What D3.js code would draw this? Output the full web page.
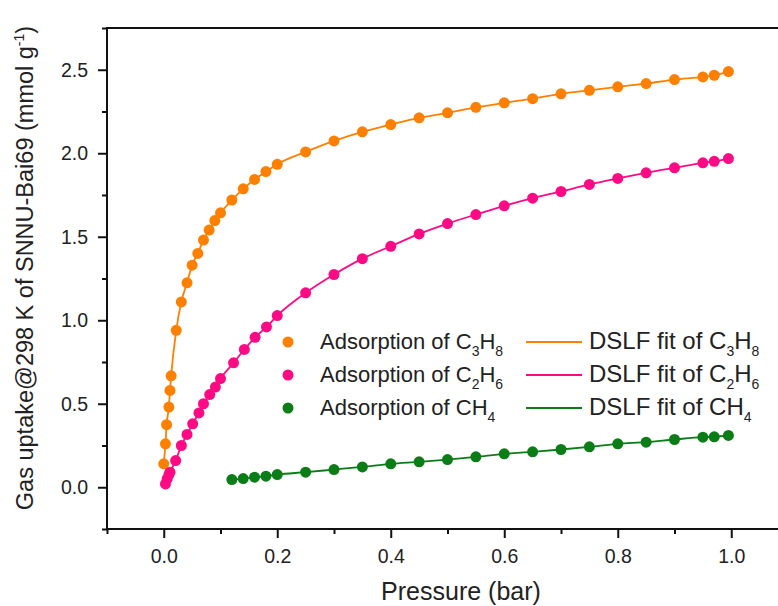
<!DOCTYPE html>
<html lang="en">
  <head>
    <meta charset="utf-8" />
    <title>Gas uptake</title>
    <script src="https://d3js.org/d3.v7.min.js"></script>
    <style>
      body { margin: 0; background: #fff; }
      svg text { font-family: Arial, "Liberation Sans", sans-serif; fill: #222; }
    </style>
  </head>
  <body>
    <div id="chart"></div>
    <script>
      // pressure (bar) and uptake (mmol/g)
      const pC3H8 = [0.0, 0.003, 0.005, 0.009, 0.011, 0.013, 0.022, 0.031, 0.041, 0.05, 0.06, 0.07, 0.08, 0.09, 0.1, 0.12, 0.14, 0.16, 0.18, 0.2, 0.25, 0.3, 0.35, 0.4, 0.45, 0.5, 0.55, 0.6, 0.65, 0.7, 0.75, 0.8, 0.85, 0.9, 0.95, 0.97, 0.995];
      const qC3H8 = [0.14, 0.26, 0.375, 0.48, 0.58, 0.667, 0.94, 1.11, 1.224, 1.33, 1.40, 1.48, 1.54, 1.597, 1.643, 1.72, 1.787, 1.843, 1.89, 1.934, 2.008, 2.074, 2.128, 2.172, 2.212, 2.242, 2.275, 2.302, 2.327, 2.356, 2.377, 2.398, 2.417, 2.441, 2.457, 2.467, 2.489];

      const pC2H6 = [0.003, 0.006, 0.009, 0.011, 0.021, 0.031, 0.041, 0.051, 0.062, 0.07, 0.081, 0.091, 0.1, 0.123, 0.142, 0.161, 0.181, 0.2, 0.25, 0.3, 0.35, 0.4, 0.45, 0.5, 0.55, 0.6, 0.65, 0.7, 0.75, 0.8, 0.85, 0.9, 0.95, 0.97, 0.995];
      const qC2H6 = [0.02, 0.05, 0.075, 0.09, 0.16, 0.25, 0.316, 0.38, 0.445, 0.5, 0.555, 0.6, 0.651, 0.745, 0.825, 0.898, 0.96, 1.028, 1.164, 1.274, 1.369, 1.443, 1.517, 1.579, 1.633, 1.685, 1.731, 1.771, 1.813, 1.849, 1.883, 1.913, 1.943, 1.952, 1.968];

      const pCH4 = [0.12, 0.14, 0.16, 0.18, 0.2, 0.25, 0.3, 0.35, 0.4, 0.45, 0.5, 0.55, 0.6, 0.65, 0.7, 0.75, 0.8, 0.85, 0.9, 0.95, 0.97, 0.995];
      const qCH4 = [0.046, 0.052, 0.06, 0.066, 0.076, 0.09, 0.106, 0.122, 0.14, 0.152, 0.166, 0.182, 0.2, 0.212, 0.226, 0.242, 0.26, 0.27, 0.286, 0.3, 0.302, 0.31];

      const gases = [
        { formula: ["C", "3", "H", "8"], p: pC3H8, q: qC3H8, color: "#ff8000" },
        { formula: ["C", "2", "H", "6"], p: pC2H6, q: qC2H6, color: "#ff0a84" },
        { formula: ["CH", "4"], p: pCH4, q: qCH4, color: "#0b7d16" }
      ];

      const xTicks = [0.0, 0.2, 0.4, 0.6, 0.8, 1.0];
      const yTicks = [0.0, 0.5, 1.0, 1.5, 2.0, 2.5];

      const W = 778, H = 606;
      const m = { left: 107, top: 28, right: 788, bottom: 529 };

      const svg = d3.select("#chart").append("svg").attr("width", W).attr("height", H);

      const x = d3.scaleLinear().domain([-0.1, 1.1]).range([m.left, m.right]);
      const y = d3.scaleLinear().domain([-0.25, 2.75]).range([m.bottom, m.top]);

      // axes: minor ticks then major ticks with labels
      const minorX = d3.range(-0.1, 1.11, 0.1).filter((v) => Math.abs(Math.round(v * 10) % 2) === 1);
      const minorY = d3.range(-0.25, 2.76, 0.5);

      svg.append("g")
        .attr("transform", `translate(0,${m.bottom})`)
        .call(d3.axisBottom(x).tickValues(minorX).tickSize(5).tickFormat(""))
        .call((g) => g.select(".domain").remove());
      svg.append("g")
        .attr("transform", `translate(0,${m.bottom})`)
        .call(d3.axisBottom(x).tickValues(xTicks).tickSize(9).tickPadding(11).tickFormat(d3.format(".1f")))
        .call((g) => g.select(".domain").remove());
      svg.append("g")
        .attr("transform", `translate(${m.left},0)`)
        .call(d3.axisLeft(y).tickValues(minorY).tickSize(5).tickFormat(""))
        .call((g) => g.select(".domain").remove());
      svg.append("g")
        .attr("transform", `translate(${m.left},0)`)
        .call(d3.axisLeft(y).tickValues(yTicks).tickSize(9).tickPadding(10).tickFormat(d3.format(".1f")))
        .call((g) => g.select(".domain").remove());

      svg.selectAll(".tick line").attr("stroke", "#111").attr("stroke-width", 2);
      svg.selectAll(".tick text").style("font-size", "19.5px").attr("fill", "#222");

      // frame (right side falls outside the window, as in the source)
      svg.append("path")
        .attr("d", `M${m.right},${m.top}H${m.left}V${m.bottom}H${m.right}`)
        .attr("fill", "none")
        .attr("stroke", "#111")
        .attr("stroke-width", 2);

      // fits and points
      const line = d3.line().x((d) => x(d[0])).y((d) => y(d[1])).curve(d3.curveMonotoneX);

      gases.forEach((g) => {
        const pts = g.p.map((v, i) => [v, g.q[i]]);
        svg.append("path")
          .datum(pts)
          .attr("d", line)
          .attr("fill", "none")
          .attr("stroke", g.color)
          .attr("stroke-width", 1.8);
        svg.append("g")
          .selectAll("circle")
          .data(pts)
          .join("circle")
          .attr("cx", (d) => x(d[0]))
          .attr("cy", (d) => y(d[1]))
          .attr("r", 5.5)
          .attr("fill", g.color);
      });

      // formula text with subscripts
      function formulaText(sel, prefix, parts) {
        sel.append("tspan").text(prefix);
        parts.forEach((s, i) => {
          const sub = i % 2 === 1;
          sel.append("tspan")
            .text(s)
            .style("font-size", sub ? "14px" : null)
            .attr("dy", sub ? 7 : i > 0 ? -7 : 0);
        });
      }

      // legend
      const legY = [342, 375, 408];
      gases.forEach((g, i) => {
        svg.append("circle").attr("cx", 288).attr("cy", legY[i]).attr("r", 5.5).attr("fill", g.color);
        formulaText(
          svg.append("text").attr("x", 320).attr("y", legY[i] + 7).style("font-size", "22px"),
          "Adsorption of ",
          g.formula
        );
        svg.append("line")
          .attr("x1", 526).attr("x2", 582)
          .attr("y1", legY[i]).attr("y2", legY[i])
          .attr("stroke", g.color).attr("stroke-width", 1.8);
        formulaText(
          svg.append("text").attr("x", 589).attr("y", legY[i] + 7).style("font-size", "24px"),
          "DSLF fit of ",
          g.formula
        );
      });

      // axis titles
      svg.append("text")
        .attr("x", 461).attr("y", 600)
        .attr("text-anchor", "middle")
        .style("font-size", "25px")
        .text("Pressure (bar)");

      const yl = svg.append("text")
        .attr("transform", "translate(33,268) rotate(-90)")
        .attr("text-anchor", "middle")
        .style("font-size", "23.5px");
      yl.append("tspan").text("Gas uptake@298 K of SNNU-Bai69 (mmol g");
      yl.append("tspan").text("-1").style("font-size", "14px").attr("dy", -9);
      yl.append("tspan").text(")").attr("dy", 9);
    </script>
  </body>
</html>
